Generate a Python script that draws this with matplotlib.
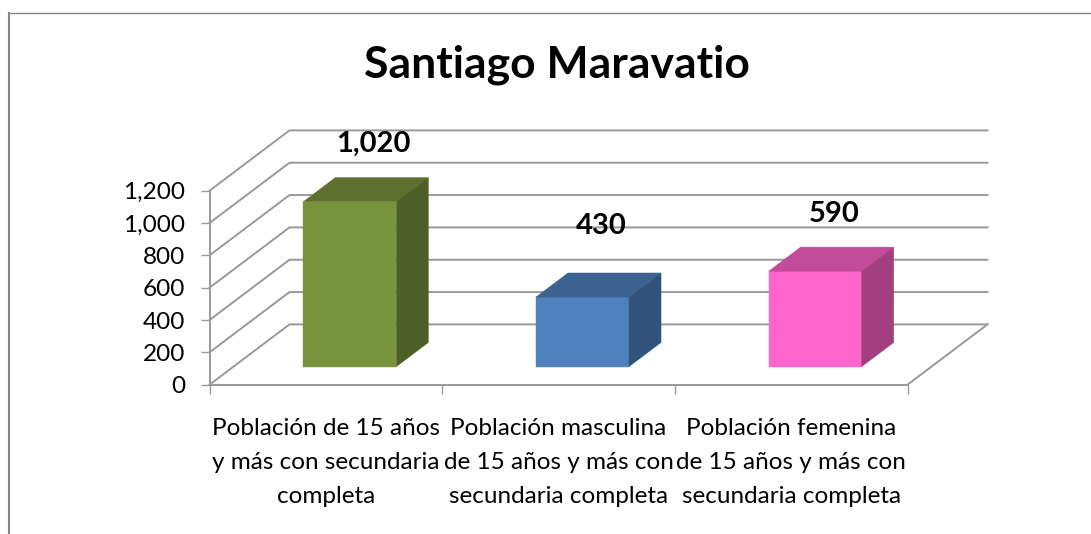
# STEP 1: Import Libraries
import matplotlib
matplotlib.use("Agg")
import matplotlib.pyplot as plt

# STEP 2: Data
title = "Santiago Maravatio"
categories = [
    "Población de 15 años\ny más con secundaria\ncompleta",
    "Población masculina\nde 15 años y más con\nsecundaria completa",
    "Población femenina\nde 15 años y más con\nsecundaria completa",
]
values = [1020, 430, 590]
value_labels = ["1,020", "430", "590"]
y_ticks = [0, 200, 400, 600, 800, 1000, 1200]
y_tick_labels = ["0", "200", "400", "600", "800", "1,000", "1,200"]

# STEP 3: Styles (front, top, side)
bar_colors = [
    ("#77933C", "#5E702D", "#4D5F27"),
    ("#4F81BD", "#3B6290", "#31537B"),
    ("#FF66CC", "#C14C99", "#A33F81"),
]
label_offsets = [(47, 76), (43, 89), (43, 75)]
GRID = "#999999"
BORDER = "#868686"
W, H = 1091, 534

# STEP 4: Figure and axes, placed by pixels
plt.rcParams["font.family"] = ["Lato", "DejaVu Sans"]
fig = plt.figure(figsize=(W / 100, H / 100), dpi=100)
left, right, top, bottom = 209.5, 907.5, 190.7, 384.7
ax = fig.add_axes([left / W, 1 - bottom / H, (right - left) / W, (bottom - top) / H])
ax.set_xlim(0, 3)
ax.set_ylim(0, 1200)
ax.patch.set_alpha(0)

# depth of the 3D box, in data units
DX = 80 / ((right - left) / 3)
DY = 60.3 / ((bottom - top) / 1200)


def proj(x, y, d):
    return x + d * DX, y + d * DY


# STEP 5: Walls and gridlines
for v in y_ticks:
    xs, ys = zip(proj(0, v, 0), proj(0, v, 1), proj(3, v, 1))
    ax.plot(xs, ys, color=GRID, lw=1.4, clip_on=False, zorder=1, solid_joinstyle="miter")
xs, ys = zip(proj(3, 0, 0), proj(3, 0, 1))
ax.plot(xs, ys, color=GRID, lw=1.4, clip_on=False, zorder=1)

# STEP 6: Bars as front, top and side faces
for i, v in enumerate(values):
    front, roof, side = bar_colors[i]
    x0, x1 = i + 0.3, i + 0.7
    d0, d1 = 0.3, 0.7
    face = [proj(x0, 0, d0), proj(x1, 0, d0), proj(x1, v, d0), proj(x0, v, d0)]
    lid = [proj(x0, v, d0), proj(x1, v, d0), proj(x1, v, d1), proj(x0, v, d1)]
    wing = [proj(x1, 0, d0), proj(x1, 0, d1), proj(x1, v, d1), proj(x1, v, d0)]
    for poly, c in [(face, front), (lid, roof), (wing, side)]:
        xs, ys = zip(*poly)
        ax.fill(xs, ys, color=c, lw=0.3, clip_on=False, zorder=3)
    ax.annotate(value_labels[i], xy=(i + 0.5, v), xytext=label_offsets[i],
                textcoords="offset pixels", ha="center", va="center",
                fontsize=21, fontweight="bold", color="black", zorder=5)

# STEP 7: Axes
for s in ["top", "right"]:
    ax.spines[s].set_visible(False)
for s in ["left", "bottom"]:
    ax.spines[s].set_color(GRID)
    ax.spines[s].set_linewidth(1.4)
    ax.spines[s].set_zorder(2)
ax.set_yticks(y_ticks, labels=y_tick_labels)
ax.set_xticks([0, 1, 2, 3], labels=[])
ax.set_xticks([0.5, 1.5, 2.5], labels=categories, minor=True, linespacing=1.77)
ax.tick_params(axis="y", length=6.5, width=1.0, color=GRID, labelsize=17.6, pad=11)
ax.tick_params(axis="x", which="major", length=6.5, width=1.0, color=GRID)
ax.tick_params(axis="x", which="minor", length=0, labelsize=17.5, pad=23.9)

# STEP 8: Title and outer border
fig.text(556.5 / W, 1 - 65 / H, title, ha="center", va="center",
         fontsize=32, fontweight="bold", color="black")
fig.add_artist(plt.Line2D([9 / W, 9 / W], [0, 1 - 12.5 / H], color=BORDER, lw=1.5))
fig.add_artist(plt.Line2D([8.5 / W, 1], [1 - 12.5 / H, 1 - 12.5 / H], color=BORDER, lw=1.0))

# STEP 9: Save
fig.savefig("out.png", dpi=100)
